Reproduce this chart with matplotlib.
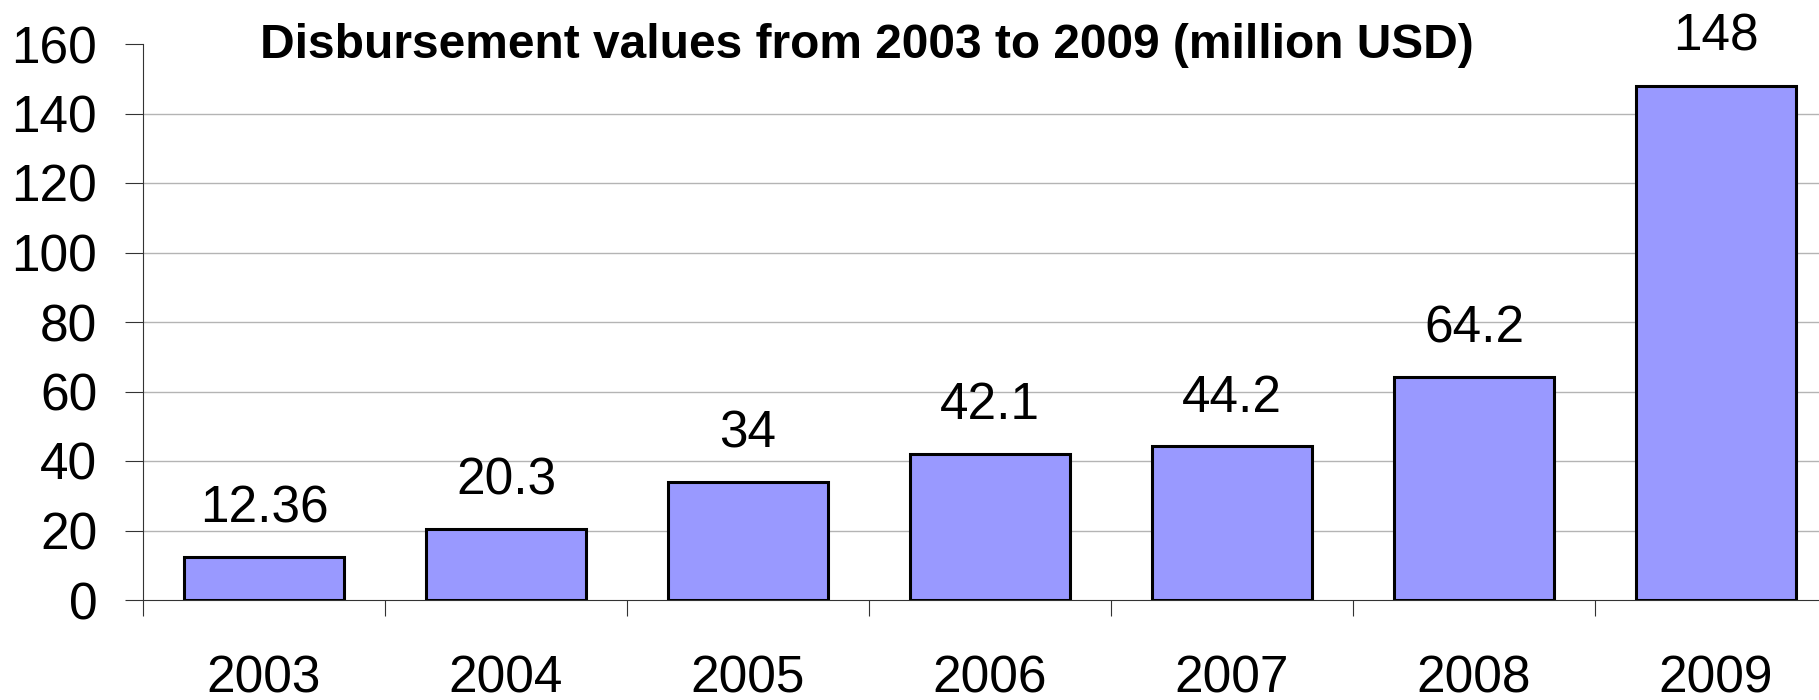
import matplotlib.pyplot as plt
import numpy as np

years = ["2003", "2004", "2005", "2006", "2007", "2008", "2009"]
values = [12.36, 20.3, 34, 42.1, 44.2, 64.2, 148]
value_labels = ["12.36", "20.3", "34", "42.1", "44.2", "64.2", "148"]
y_ticks = [0, 20, 40, 60, 80, 100, 120, 140, 160]

plt.rcParams["font.family"] = ["Liberation Sans", "DejaVu Sans"]

fig = plt.figure(figsize=(18.19, 7), dpi=100)
W, H = 1819, 700
ax = fig.add_axes([143 / W, 1 - 600 / H, (1837 - 143) / W, (600 - 44) / H])

x = np.arange(len(years))
ax.bar(x, values, width=0.66, color="#9999ff", edgecolor="black", linewidth=2.2, zorder=3)

for xi, v, lab in zip(x, values, value_labels):
    ax.annotate(lab, (xi, v), xytext=(0, 25), textcoords="offset points",
                ha="center", va="baseline", fontsize=37)

ax.set_xlim(-0.5, len(years) - 0.5)
ax.set_ylim(0, 160)
ax.set_yticks(y_ticks)
ax.tick_params(axis="y", direction="out", length=13, width=0.8, color="#333333",
               labelsize=37, pad=20)

# category labels at centres, tick marks at boundaries
ax.set_xticks(x)
ax.set_xticklabels(years)
ax.set_xticks(np.arange(-0.5, len(years)), minor=True)
ax.tick_params(axis="x", which="major", length=0, labelsize=37, pad=39)
ax.tick_params(axis="x", which="minor", direction="out", length=11.5, width=0.8,
               color="#333333")

ax.grid(axis="y", color="#b4b4b4", linewidth=1.0, zorder=0)
ax.yaxis.get_gridlines()[-1].set_visible(False)
ax.yaxis.get_gridlines()[0].set_visible(False)

for side in ["top", "right"]:
    ax.spines[side].set_visible(False)
for side in ["left", "bottom"]:
    ax.spines[side].set_color("#333333")
    ax.spines[side].set_linewidth(0.8)

fig.text(867 / W, 1 - 58 / H, "Disbursement values from 2003 to 2009 (million USD)",
         ha="center", va="baseline", fontsize=34.5, fontweight="bold")

fig.savefig("out.png", dpi=100)
